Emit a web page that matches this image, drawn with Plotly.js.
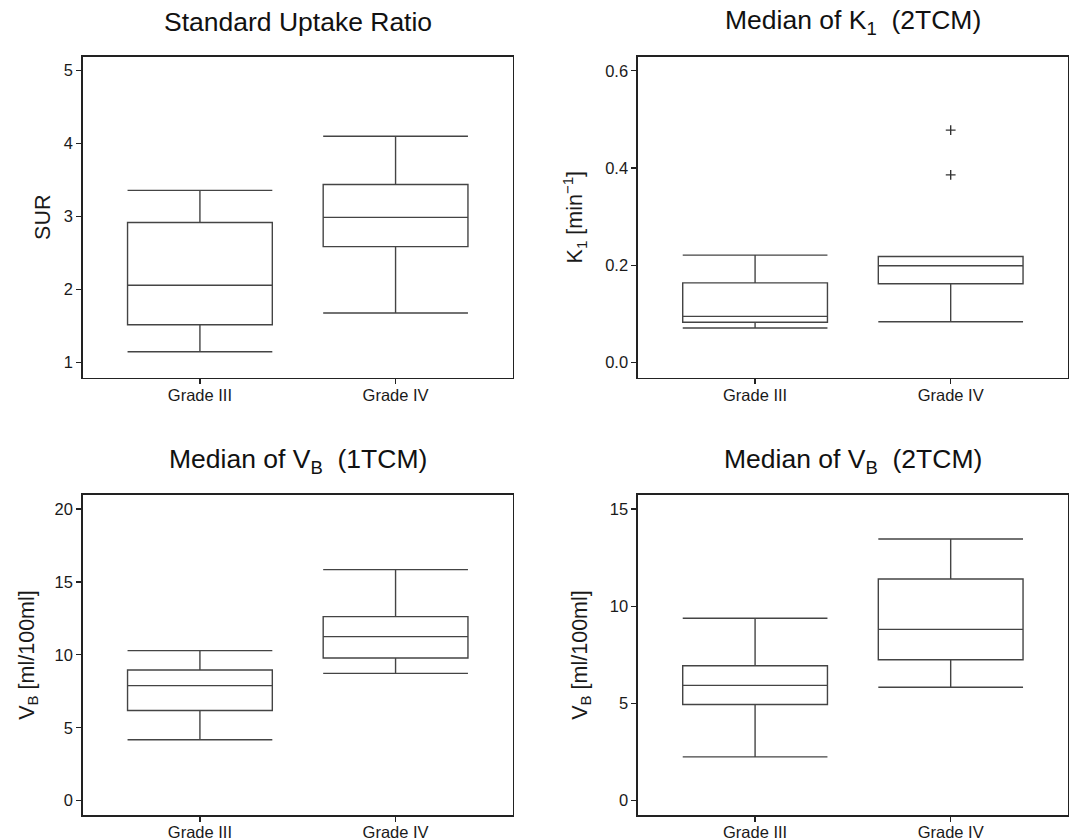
<!DOCTYPE html>
<html>
<head>
<meta charset="utf-8">
<script src="https://cdn.plot.ly/plotly-3.0.1.min.js"></script>
<style>html,body{margin:0;padding:0;background:#fff;}#chart{width:1072px;height:840px;}</style>
</head>
<body>
<div id="chart"></div>
<script>
// ---- data ----
const categories = ['Grade III', 'Grade IV'];

const surLower  = [1.15, 1.68];
const surQ1     = [1.52, 2.59];
const surMedian = [2.06, 2.99];
const surQ3     = [2.92, 3.44];
const surUpper  = [3.36, 4.10];

const k1Lower  = [0.071, 0.084];
const k1Q1     = [0.083, 0.162];
const k1Median = [0.095, 0.199];
const k1Q3     = [0.164, 0.218];
const k1Upper  = [0.221, 0.218];
const k1OutlierCats   = ['Grade IV', 'Grade IV'];
const k1OutlierValues = [0.478, 0.386];

const vb1Lower  = [4.18, 8.73];
const vb1Q1     = [6.19, 9.78];
const vb1Median = [7.89, 11.25];
const vb1Q3     = [8.96, 12.62];
const vb1Upper  = [10.29, 15.84];

const vb2Lower  = [2.25, 5.83];
const vb2Q1     = [4.95, 7.25];
const vb2Median = [5.93, 8.81];
const vb2Q3     = [6.94, 11.40];
const vb2Upper  = [9.38, 13.46];

const panelTitles = ['Standard Uptake Ratio', 'Median of K<sub>1</sub>\u00a0 (2TCM)',
                     'Median of V<sub>B</sub>\u00a0 (1TCM)', 'Median of V<sub>B</sub>\u00a0 (2TCM)'];
const yTitles = ['SUR', 'K<sub>1</sub> [min<sup>\u22121</sup>]', 'V<sub>B</sub> [ml/100ml]', 'V<sub>B</sub> [ml/100ml]'];

// ---- styling ----
const FONT = 'Liberation Sans, Arial, Helvetica, sans-serif';
const boxLine = {color: '#444', width: 1.4};

function boxTrace(lo, q1, med, q3, hi, xa, ya) {
  return {
    type: 'box', x: categories, lowerfence: lo, q1: q1, median: med, q3: q3, upperfence: hi,
    xaxis: xa, yaxis: ya, width: 0.74, whiskerwidth: 1, boxpoints: false,
    line: boxLine, fillcolor: 'rgba(255,255,255,0)', showlegend: false, hoverinfo: 'skip'
  };
}

const data = [
  boxTrace(surLower, surQ1, surMedian, surQ3, surUpper, 'x', 'y'),
  boxTrace(k1Lower, k1Q1, k1Median, k1Q3, k1Upper, 'x2', 'y2'),
  {type: 'scatter', mode: 'markers', x: k1OutlierCats, y: k1OutlierValues, xaxis: 'x2', yaxis: 'y2',
   marker: {symbol: 'cross-thin', size: 7, color: '#333', line: {color: '#333', width: 1.4}},
   showlegend: false, hoverinfo: 'skip'},
  boxTrace(vb1Lower, vb1Q1, vb1Median, vb1Q3, vb1Upper, 'x3', 'y3'),
  boxTrace(vb2Lower, vb2Q1, vb2Median, vb2Q3, vb2Upper, 'x4', 'y4')
];

const xDomL = [0.077, 0.4785], xDomR = [0.5949, 0.9963];
const yDomT = [0.5504, 0.9325], yDomB = [0.0294, 0.4111];

function xAxis(dom, anchor) {
  return {
    domain: dom, anchor: anchor, type: 'category', range: [-0.6, 1.6],
    showline: true, mirror: true, linecolor: '#222', linewidth: 1.3,
    ticks: 'outside', ticklen: 5, tickwidth: 1.3, tickcolor: '#222',
    ticklabelstandoff: -3,
    showgrid: false, zeroline: false, fixedrange: true,
    tickfont: {family: FONT, size: 16.5, color: '#1a1a1a'}
  };
}
function yAxis(dom, anchor, range, dtick, fmt, title, standoff) {
  return {
    domain: dom, anchor: anchor, range: range, dtick: dtick, tick0: 0, tickformat: fmt,
    showline: true, mirror: true, linecolor: '#222', linewidth: 1.3,
    ticks: 'outside', ticklen: 5, tickwidth: 1.3, tickcolor: '#222',
    showgrid: false, zeroline: false, fixedrange: true,
    tickfont: {family: FONT, size: 16.5, color: '#1a1a1a'},
    title: {text: title, standoff: standoff, font: {family: FONT, size: 21.5, color: '#1a1a1a'}}
  };
}

const layout = {
  width: 1072, height: 840,
  margin: {l: 0, r: 0, t: 0, b: 0},
  paper_bgcolor: '#fff', plot_bgcolor: '#fff',
  showlegend: false,
  font: {family: FONT, color: '#1a1a1a'},
  xaxis: xAxis(xDomL, 'y'),
  yaxis: yAxis(yDomT, 'x', [0.795, 5.19], 1, '', yTitles[0], 7),
  xaxis2: xAxis(xDomR, 'y2'),
  yaxis2: yAxis(yDomT, 'x2', [-0.031, 0.629], 0.2, '.1f', yTitles[1], 16),
  xaxis3: xAxis(xDomL, 'y3'),
  yaxis3: yAxis(yDomB, 'x3', [-1.0, 20.98], 5, '', yTitles[2], 14),
  xaxis4: xAxis(xDomR, 'y4'),
  yaxis4: yAxis(yDomB, 'x4', [-0.754, 15.74], 5, '', yTitles[3], 16),
  annotations: [
    {text: panelTitles[0], x: (xDomL[0] + xDomL[1]) / 2, y: 1 - 22 / 840},
    {text: panelTitles[1], x: (xDomR[0] + xDomR[1]) / 2, y: 1 - 22 / 840},
    {text: panelTitles[2], x: (xDomL[0] + xDomL[1]) / 2, y: 1 - 461 / 840},
    {text: panelTitles[3], x: (xDomR[0] + xDomR[1]) / 2, y: 1 - 461 / 840}
  ].map(a => Object.assign(a, {xref: 'paper', yref: 'paper', xanchor: 'center', yanchor: 'middle',
      showarrow: false, font: {family: FONT, size: 26.5, color: '#111'}}))
};

Plotly.newPlot('chart', data, layout, {staticPlot: true, displayModeBar: false});
</script>
</body>
</html>
